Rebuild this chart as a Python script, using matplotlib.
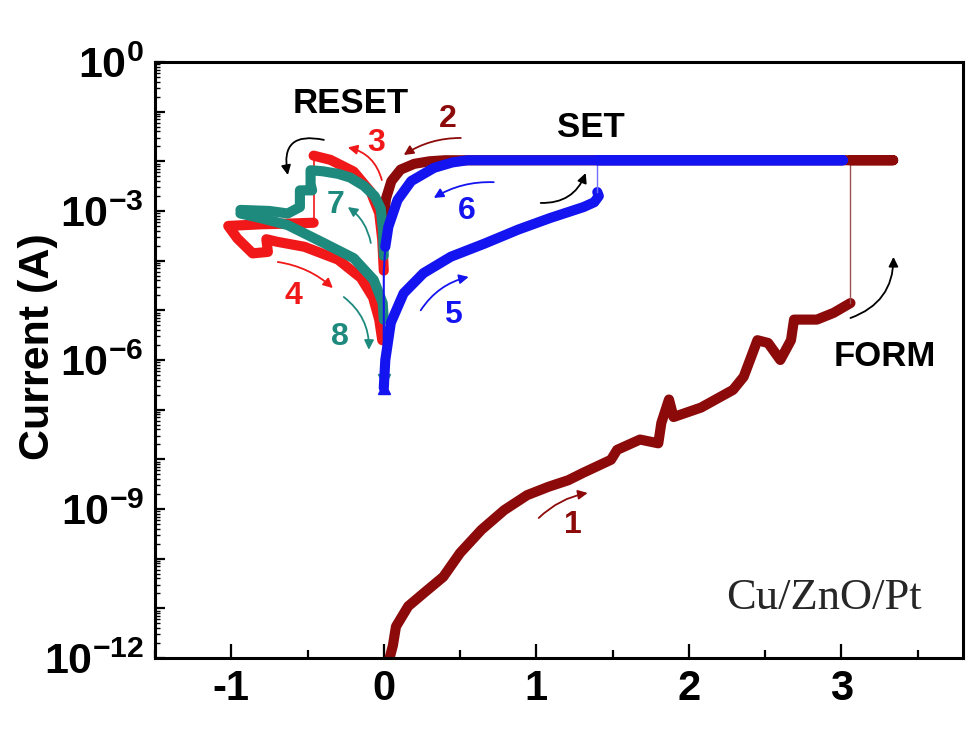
import math
import matplotlib
matplotlib.use('Agg')
import matplotlib.pyplot as plt
from matplotlib.ticker import FixedLocator, LogLocator, FuncFormatter, MultipleLocator, NullFormatter

plt.rcParams['font.family'] = 'Liberation Sans'
plt.rcParams['font.weight'] = 'bold'
plt.rcParams['mathtext.fontset'] = 'custom'
plt.rcParams['mathtext.rm'] = 'Liberation Sans:bold'
plt.rcParams['mathtext.bf'] = 'Liberation Sans:bold'
plt.rcParams['axes.unicode_minus'] = False

DARK_RED = '#8c0a0a'
RED = '#f01818'
TEAL = '#1e8a7e'
BLUE = '#1414f0'

# sweep 1: forming (0 -> 3.06 V)
form_v = [0.03, 0.06, 0.08, 0.16, 0.26, 0.39, 0.50, 0.64, 0.79, 0.94, 1.08, 1.21,
          1.31, 1.49, 1.53, 1.68, 1.80, 1.82, 1.87, 1.90, 2.08, 2.29, 2.36, 2.45,
          2.52, 2.60, 2.67, 2.69, 2.84, 2.95, 3.06]
form_i = [8e-13, 1.8e-12, 4.3e-12, 1.1e-11, 2.0e-11, 4.3e-11, 1.3e-10, 3.8e-10,
          9.5e-10, 1.9e-9, 2.8e-9, 3.8e-9, 5.4e-9, 9.8e-9, 1.55e-8, 2.5e-8, 2.1e-8,
          5.4e-8, 1.6e-7, 7.1e-8, 1.1e-7, 2.5e-7, 4.6e-7, 2.5e-6, 2.2e-6, 1.0e-6,
          2.5e-6, 6.5e-6, 6.5e-6, 8.9e-6, 1.4e-5]
form_jump_v = [3.06, 3.06]
form_jump_i = [1.4e-5, 1.05e-2]

# sweep 2: compliance and return to 0 V
ret2_v = [3.06, 3.34, 0.40, 0.30, 0.20, 0.11, 0.05, 0.015, 0.0]
ret2_i = [1.05e-2, 1.05e-2, 1.05e-2, 1.0e-2, 8.9e-3, 6.8e-3, 4.0e-3, 1.8e-3, 7.9e-4]

# sweeps 3/4: first reset
reset3_v = [0.0, -0.01, -0.03, -0.085, -0.197, -0.35, -0.46]
reset3_i = [6.3e-5, 2.6e-4, 9.1e-4, 2.4e-3, 6.2e-3, 1.07e-2, 1.3e-2]
drop3_v = [-0.46, -0.46]
drop3_i = [1.3e-2, 5.8e-4]
hrs4_v = [-0.46, -0.60, -0.80, -1.02, -0.96, -0.86, -0.76, -0.77, -0.70, -0.52,
          -0.30, -0.15, -0.07, -0.03, -0.01]
hrs4_i = [5.8e-4, 5.6e-4, 5.4e-4, 5.0e-4, 2.8e-4, 1.4e-4, 1.5e-4, 2.7e-4, 2.4e-4,
          1.9e-4, 1.05e-4, 4.5e-5, 1.8e-5, 6.5e-6, 2.5e-6]

# sweeps 5/6: set
set5_v = [0.0, 0.01, 0.046, 0.13, 0.26, 0.44, 0.66, 0.88, 1.09, 1.31, 1.38, 1.41, 1.40]
set5_i = [2.75e-7, 1.0e-6, 5.6e-6, 2.2e-5, 5.6e-5, 1.2e-4, 2.2e-4, 4.2e-4, 7.2e-4,
          1.2e-3, 1.5e-3, 2.0e-3, 2.4e-3]
jump5_v = [1.40, 1.40]
jump5_i = [2.4e-3, 1.05e-2]
ret6_v = [1.40, 3.01, 0.55, 0.45, 0.33, 0.18, 0.09, 0.03, 0.01]
ret6_i = [1.05e-2, 1.05e-2, 1.05e-2, 9.5e-3, 7.4e-3, 4.0e-3, 1.66e-3, 4.8e-4, 1.9e-4]
tail6_v = [0.01, 0.0, 0.0]
tail6_i = [1.9e-4, 6e-5, 2.75e-7]

# sweeps 7/8: second reset
reset7_v = [0.0, -0.005, -0.02, -0.06, -0.13, -0.22, -0.30, -0.40, -0.48,
            -0.48, -0.47, -0.55, -0.55, -0.63, -0.75, -0.94]
reset7_i = [1.26e-4, 4.0e-4, 1.12e-3, 2.0e-3, 3.2e-3, 4.7e-3, 5.6e-3, 6.3e-3, 6.6e-3,
            3.5e-3, 2.6e-3, 2.6e-3, 1.2e-3, 8.9e-4, 1.0e-3, 1.05e-3]
hrs8_v = [-0.94, -0.80, -0.63, -0.41, -0.197, -0.066, -0.007, 0.0]
hrs8_i = [8.9e-4, 7.1e-4, 5.2e-4, 2.4e-4, 1.12e-4, 4.1e-5, 1.4e-5, 6.5e-6]
tail8_v = [0.0, 0.0]
tail8_i = [6.5e-6, 4.0e-7]

fig = plt.figure(figsize=(9.75, 7.29), dpi=100)
ax = fig.add_axes([0.159, 0.0974, 0.829, 0.8176])

thick = dict(lw=7.3, solid_joinstyle='round', solid_capstyle='round')
ax.plot(form_v, form_i, color=DARK_RED, **thick)
ax.plot(form_jump_v, form_jump_i, color='#a05050', lw=1.0)
ax.plot(ret2_v, ret2_i, color=DARK_RED, **thick)
ax.plot(reset3_v, reset3_i, color=RED, **thick)
ax.plot(drop3_v, drop3_i, color=RED, lw=1.2)
ax.plot(hrs4_v, hrs4_i, color=RED, **thick)
ax.plot(reset7_v, reset7_i, color=TEAL, **thick)
ax.plot(hrs8_v, hrs8_i, color=TEAL, **thick)
ax.plot(tail8_v, tail8_i, color=TEAL, lw=1.5, marker='v', markevery=[1], ms=8)
ax.plot(set5_v, set5_i, color=BLUE, **thick)
ax.plot(jump5_v, jump5_i, color='#7070ff', lw=1.0)
ax.plot(ret6_v, ret6_i, color=BLUE, **thick)
ax.plot(tail6_v, tail6_i, color=BLUE, lw=1.5, marker='^', markevery=[2], ms=8)

ax.set_yscale('log')
ax.set_xlim(-1.5, 3.8)
ax.set_ylim(1e-12, 1e0)

ax.xaxis.set_major_locator(MultipleLocator(1))
ax.xaxis.set_minor_locator(MultipleLocator(0.5))
ax.yaxis.set_major_locator(FixedLocator([10.0 ** -k for k in range(13)]))
ax.yaxis.set_minor_locator(LogLocator(base=10, subs=range(2, 10), numticks=20))
ax.yaxis.set_minor_formatter(NullFormatter())


def y_label(val, pos):
    k = round(-math.log10(val))
    if k % 3 == 0:
        if k == 0:
            return r'$\mathbf{10^{0}}$'
        return r'$\mathbf{10^{-%d}}$' % k
    return ''


ax.yaxis.set_major_formatter(FuncFormatter(y_label))
ax.tick_params(axis='x', which='major', direction='in', length=10, width=1.6,
               labelsize=30, pad=8)
ax.tick_params(axis='x', which='minor', direction='in', length=6, width=1.6)
ax.tick_params(axis='y', which='major', direction='in', length=7, width=1.6,
               labelsize=31, pad=8)
ax.tick_params(axis='y', which='minor', direction='in', length=3.5, width=1.0)
for s in ax.spines.values():
    s.set_linewidth(2.2)

ax.set_ylabel('Current (A)', fontsize=31, fontweight='bold')
ax.yaxis.set_label_coords(-0.12, 0.523)

# labels
ax.text(-0.216, 0.143, 'RESET', fontsize=25, ha='center', va='center')
ax.text(1.357, 0.047, 'SET', fontsize=25, ha='center', va='center')
ax.text(3.283, 1.2e-6, 'FORM', fontsize=25, ha='center', va='center')
ax.text(2.883, 1.6e-11, 'Cu/ZnO/Pt', fontsize=32, fontweight='normal',
        family='Liberation Serif', color='#262626', ha='center', va='center')

numbers = [('1', 1.239, 4.8e-10, DARK_RED), ('2', 0.42, 7.1e-2, DARK_RED),
           ('3', -0.052, 2.3e-2, RED), ('4', -0.59, 1.9e-5, RED),
           ('5', 0.452, 8.1e-6, BLUE), ('6', 0.544, 1.0e-3, BLUE),
           ('7', -0.315, 1.3e-3, TEAL), ('8', -0.288, 2.9e-6, TEAL)]
for txt, xv, yv, c in numbers:
    ax.text(xv, yv, txt, fontsize=23, color=c, ha='center', va='center')

# arrows: (tail, head, rad, colour)
arrows = [((-0.393, 2.7e-2), (-0.629, 5.3e-3), 0.75, 'black'),
          ((-0.013, 4.2e-3), (-0.236, 1.9e-2), 0.3, RED),
          ((0.505, 2.95e-2), (0.131, 1.34e-2), 0.15, DARK_RED),
          ((-0.085, 2.27e-4), (-0.236, 1.2e-3), 0.2, TEAL),
          ((0.721, 3.8e-3), (0.328, 1.83e-3), 0.15, BLUE),
          ((1.029, 1.45e-3), (1.324, 5.8e-3), 0.35, 'black'),
          ((-0.695, 9.4e-5), (-0.334, 2.8e-5), -0.15, RED),
          ((-0.262, 1.85e-5), (-0.098, 1.6e-6), -0.25, TEAL),
          ((0.242, 1.0e-5), (0.557, 4.7e-5), -0.2, BLUE),
          ((1.016, 6.6e-10), (1.337, 2.1e-9), -0.15, DARK_RED),
          ((3.06, 7.0e-6), (3.342, 1.19e-4), 0.35, 'black')]
for tail, head, rad, c in arrows:
    ax.annotate('', xy=head, xytext=tail,
                arrowprops=dict(arrowstyle='-|>', color=c, lw=1.3,
                                mutation_scale=14, shrinkA=0, shrinkB=0,
                                connectionstyle='arc3,rad=%s' % rad))

fig.savefig('out.png', dpi=100)
